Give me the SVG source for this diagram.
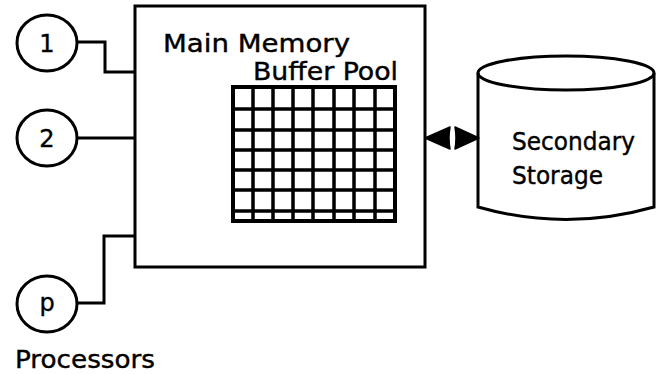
<svg xmlns="http://www.w3.org/2000/svg" width="661" height="374" viewBox="0 0 661 374">
<defs>
<style>
.s{fill:none;stroke:#000;stroke-width:3}
.t{font-family:"DejaVu Sans","Liberation Sans",sans-serif;font-size:24px;fill:#000;stroke:#000;stroke-width:0.4}
.g{stroke:#000;stroke-width:3.5;fill:none}
</style>
</defs>
<rect width="661" height="374" fill="#fff"/>
<g id="connectors">
<path class="s" d="M77,42 H105 V72 H135"/>
<path class="s" d="M77,138 H135"/>
<path class="s" d="M77,303 H104 V236 H135"/>
<path d="M425,138 L450,127 Q448,138 450,149 Z" fill="#000" stroke="#000" stroke-width="1.5" stroke-linejoin="round"/>
<path d="M479,138 L455,127 Q457,138 455,149 Z" fill="#000" stroke="#000" stroke-width="1.5" stroke-linejoin="round"/>
</g>
<g id="p1">
<ellipse class="s" cx="47" cy="43" rx="30" ry="28"/>
<text class="t" x="47" y="52" text-anchor="middle">1</text>
</g>
<g id="p2">
<ellipse class="s" cx="47" cy="138" rx="30" ry="28"/>
<text class="t" x="47" y="147" text-anchor="middle">2</text>
</g>
<g id="pp">
<ellipse class="s" cx="47" cy="304" rx="30" ry="28"/>
<text class="t" x="47" y="311" text-anchor="middle">p</text>
<text class="t" x="15" y="368" textLength="140" lengthAdjust="spacingAndGlyphs">Processors</text>
</g>
<g id="memory">
<rect class="s" x="135" y="6" width="290" height="261"/>
<text class="t" x="163" y="52" textLength="187" lengthAdjust="spacingAndGlyphs">Main Memory</text>
<text class="t" x="253" y="80" textLength="145" lengthAdjust="spacingAndGlyphs">Buffer Pool</text>
<g id="bufferpool">
<rect x="233" y="87" width="162" height="134" fill="none" stroke="#000" stroke-width="4"/>
<path class="g" d="M253,87 V221 M273,87 V221 M293,87 V221 M313,87 V221 M334,87 V221 M354,87 V221 M375,87 V221"/>
<path class="g" d="M233,109 H395 M233,130 H395 M233,150 H395 M233,170 H395 M233,190 H395 M233,211 H395"/>
</g>
</g>
<g id="storage">
<path class="s" d="M478,73 V207 Q566,232 654,207 V73"/>
<ellipse class="s" cx="566" cy="73" rx="88" ry="17"/>
<text class="t" x="512" y="150" textLength="123" lengthAdjust="spacingAndGlyphs">Secondary</text>
<text class="t" x="512" y="184" textLength="91" lengthAdjust="spacingAndGlyphs">Storage</text>
</g>
</svg>
